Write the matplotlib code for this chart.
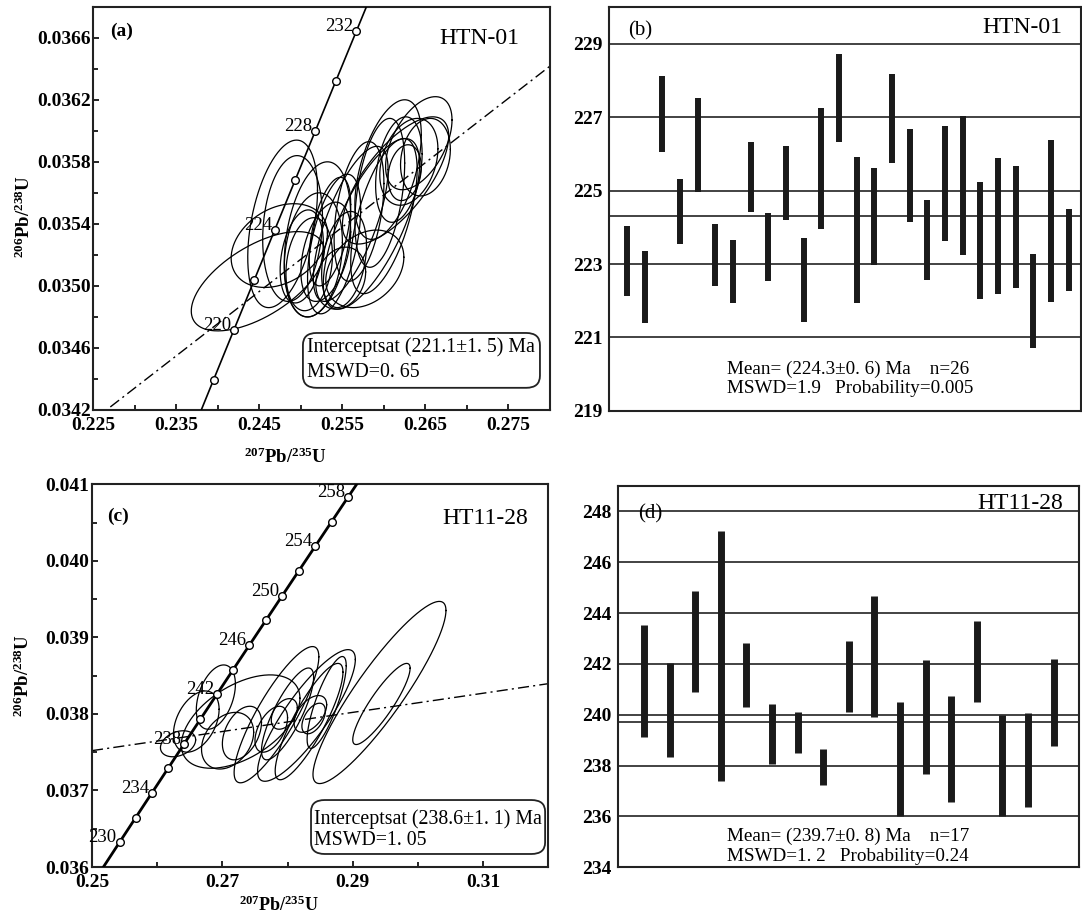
import numpy as np
import matplotlib
matplotlib.use('Agg')
import matplotlib.pyplot as plt
from matplotlib.patches import FancyBboxPatch
from matplotlib.ticker import FixedLocator, FormatStrFormatter

plt.rcParams['font.family'] = ['Liberation Serif', 'DejaVu Serif']
plt.rcParams['mathtext.fontset'] = 'custom'
plt.rcParams['mathtext.rm'] = 'Liberation Serif'
plt.rcParams['mathtext.bf'] = 'Liberation Serif:bold'

# decay constants, per Ma
L238 = 1.55125e-4
L235 = 9.8485e-4

# ---- panel (a) HTN-01 concordia ----
a_ages = [218, 220, 222, 224, 226, 228, 230, 232]
a_labels = [220, 224, 228, 232]
a_intercept = 221.1
a_slope = 0.0415
a_xticks = [0.225, 0.235, 0.245, 0.255, 0.265, 0.275]
a_yticks = [0.0342, 0.0346, 0.0350, 0.0354, 0.0358, 0.0362, 0.0366]
a_cx = [0.2448, 0.2478, 0.2474, 0.2490, 0.2501, 0.2515, 0.2510, 0.2530, 0.2540,
        0.2552, 0.2577, 0.2560, 0.2585, 0.2570, 0.2595, 0.2614, 0.2618, 0.2642,
        0.2630, 0.2650, 0.2625, 0.2600, 0.2535, 0.2520, 0.2548, 0.2605]
a_cy = [0.03503, 0.03540, 0.03526, 0.03537, 0.03519, 0.03520, 0.03514, 0.03522, 0.03527,
        0.03517, 0.03511, 0.03540, 0.03540, 0.03548, 0.03560, 0.03568, 0.03575, 0.03592,
        0.03580, 0.03583, 0.03573, 0.03545, 0.03535, 0.03530, 0.03505, 0.03575]
a_sx = [0.0080, 0.0042, 0.0058, 0.0036, 0.0026, 0.0035, 0.0028, 0.0030, 0.0032,
        0.0027, 0.0047, 0.0045, 0.0058, 0.0030, 0.0030, 0.0064, 0.0028, 0.0040,
        0.0035, 0.0030, 0.0020, 0.0040, 0.0025, 0.0040, 0.0030, 0.0040]
a_sy = [0.00032, 0.00054, 0.00027, 0.00047, 0.00030, 0.00040, 0.00030, 0.00032, 0.00045,
        0.00031, 0.00025, 0.00050, 0.00055, 0.00045, 0.00048, 0.00041, 0.00034, 0.00030,
        0.00028, 0.00025, 0.00018, 0.00050, 0.00035, 0.00050, 0.00020, 0.00045]
a_rho = [0.60, 0.40, 0.30, 0.15, 0.30, 0.20, 0.20, 0.40, 0.50,
         0.30, 0.30, 0.70, 0.70, 0.40, 0.40, 0.70, 0.30, 0.50,
         0.30, 0.20, 0.20, 0.60, 0.50, 0.30, 0.20, 0.50]

# ---- panel (b) HTN-01 weighted mean ----
b_hi = [224.04, 223.35, 228.13, 225.31, 227.54, 224.08, 223.65, 226.34, 224.38, 226.22,
        223.70, 227.26, 228.73, 225.91, 225.63, 228.17, 226.68, 224.75, 226.75, 227.04,
        225.24, 225.90, 225.67, 223.27, 226.37, 224.49]
b_lo = [222.14, 221.39, 226.06, 223.54, 224.97, 222.41, 221.93, 224.43, 222.54, 224.19,
        221.43, 223.95, 226.32, 221.93, 222.98, 225.76, 224.15, 222.57, 223.63, 223.25,
        222.04, 222.17, 222.35, 220.72, 221.97, 222.27]
b_mean = 224.3
b_grid = [221, 223, 225, 227, 229]
b_ticks = [219, 221, 223, 225, 227, 229]

# ---- panel (c) HT11-28 concordia ----
c_ages = list(range(230, 260, 2))
c_labels = [230, 234, 238, 242, 246, 250, 254, 258]
c_intercept = 238.6
c_slope = 0.0125
c_xticks = [0.25, 0.27, 0.29, 0.31]
c_yticks = [0.036, 0.037, 0.038, 0.039, 0.040, 0.041]
c_cx = [0.2941, 0.2944, 0.2783, 0.2829, 0.2833, 0.2800, 0.2728, 0.2690, 0.2708,
        0.2632, 0.2835, 0.2840, 0.2795, 0.2860, 0.2730, 0.2660, 0.2775]
c_cy = [0.03828, 0.03813, 0.03799, 0.03798, 0.03790, 0.03800, 0.03790, 0.03822, 0.03765,
        0.03761, 0.03800, 0.03794, 0.03800, 0.03815, 0.03775, 0.03790, 0.03780]
c_sx = [0.0102, 0.0044, 0.0065, 0.0075, 0.0052, 0.0040, 0.0091, 0.0030, 0.0040,
        0.0027, 0.0025, 0.0018, 0.0020, 0.0030, 0.0030, 0.0035, 0.0025]
c_sy = [0.00119, 0.00053, 0.00089, 0.00086, 0.00076, 0.00060, 0.00061, 0.00042, 0.00037,
        0.00017, 0.00024, 0.00020, 0.00020, 0.00060, 0.00035, 0.00040, 0.00030]
c_rho = [0.90, 0.88, 0.85, 0.85, 0.85, 0.80, 0.50, 0.40, 0.30,
         0.30, 0.50, 0.50, 0.40, 0.80, 0.40, 0.40, 0.50]

# ---- panel (d) HT11-28 weighted mean ----
d_hi = [243.54, 242.05, 244.87, 247.24, 242.81, 240.42, 240.12, 238.67, 242.91, 244.66,
        240.50, 242.14, 240.75, 243.68, 239.99, 240.08, 242.20]
d_lo = [239.14, 238.34, 240.91, 237.38, 240.29, 238.08, 238.49, 237.24, 240.11, 239.93,
        236.00, 237.66, 236.55, 240.52, 236.00, 236.38, 238.78]
d_mean = 239.7
d_grid = [236, 238, 240, 242, 244, 246, 248]
d_ticks = [234, 236, 238, 240, 242, 244, 246, 248]


def concordia(t):
    t = np.asarray(t, dtype=float)
    return np.exp(L235 * t) - 1, np.exp(L238 * t) - 1


def style_spines(ax):
    for s in ax.spines.values():
        s.set_linewidth(1.5)
        s.set_color('#222222')


def concordia_panel(ax, ages, labels, t0, t1, intercept, slope, cx, cy, sx, sy, rho, lw):
    tt = np.linspace(t0, t1, 300)
    x, y = concordia(tt)
    ax.plot(x, y, color='k', lw=lw, zorder=3)
    mx, my = concordia(ages)
    ax.plot(mx, my, 'o', ms=5.5, mfc='white', mec='k', mew=1.0, zorder=4)
    for age in labels:
        px, py = concordia(age)
        ax.annotate(str(age), (px, py), xytext=(-2, 0), textcoords='offset points',
                    ha='right', va='baseline', fontsize=13.5, zorder=5)
    ix, iy = concordia(intercept)
    xl = np.array(ax.get_xlim())
    ax.plot(xl, iy + slope * (xl - ix), color='k', lw=1.0,
            linestyle=(0, (8, 3, 1.5, 3)), zorder=2)
    t = np.linspace(0, 2 * np.pi, 240)
    for x0, y0, a, b, r in zip(cx, cy, sx, sy, rho):
        ax.plot(x0 + a * np.cos(t), y0 + b * (r * np.cos(t) + np.sqrt(1 - r * r) * np.sin(t)),
                color='k', lw=0.9, zorder=2)
    style_spines(ax)
    ax.tick_params(which='both', direction='in', labelsize=14)
    ax.tick_params(which='major', length=4, width=1.2)
    ax.tick_params(which='minor', length=3.5, width=1.2)
    ax.tick_params(axis='y', pad=2)
    ax.tick_params(axis='x', pad=5)
    for lab in ax.get_xticklabels() + ax.get_yticklabels():
        lab.set_fontweight('bold')
    ax.set_ylabel(r'$\mathbf{^{206}Pb/^{238}U}$', fontsize=13.5)
    ax.set_xlabel(r'$\mathbf{^{207}Pb/^{235}U}$', fontsize=13.5)
    ax.yaxis.label.set_va('bottom')
    ax.xaxis.label.set_va('top')


def set_ticks(ax, xt, yt, xstep, ystep, xfmt, yfmt):
    ax.xaxis.set_major_locator(FixedLocator(xt))
    ax.yaxis.set_major_locator(FixedLocator(yt))
    ax.xaxis.set_minor_locator(FixedLocator([v + xstep for v in xt]))
    ax.yaxis.set_minor_locator(FixedLocator([v + ystep for v in yt]))
    ax.xaxis.set_major_formatter(FormatStrFormatter(xfmt))
    ax.yaxis.set_major_formatter(FormatStrFormatter(yfmt))


def mean_panel(ax, hi, lo, mean, grid, ylim, xmax, bw, ticks):
    ax.set_xlim(0, xmax)
    ax.set_ylim(*ylim)
    for g in grid:
        ax.axhline(g, color='#222222', lw=1.2, zorder=1)
    ax.axhline(mean, color='#222222', lw=1.2, zorder=1)
    idx = np.arange(1, len(hi) + 1)
    ax.vlines(idx, lo, hi, colors='#1a1a1a', lw=bw, zorder=3)
    ax.set_xticks([])
    ax.set_yticks(ticks)
    ax.tick_params(axis='y', length=0, pad=5, labelsize=14)
    for lab in ax.get_yticklabels():
        lab.set_fontweight('bold')
    style_spines(ax)


fig = plt.figure(figsize=(10.82, 9.14), dpi=100)
W, H = 1082.0, 914.0


def add_ax(l, r, t, b):
    return fig.add_axes([l / W, 1 - b / H, (r - l) / W, (b - t) / H])


# (a)
ax_a = add_ax(93.3, 550, 6.7, 410)
ax_a.set_xlim(0.225, 0.28)
ax_a.set_ylim(0.0342, 0.0368)
set_ticks(ax_a, a_xticks, a_yticks, 0.005, 0.0002, '%.3f', '%.4f')
concordia_panel(ax_a, a_ages, a_labels, 214, 236, a_intercept, a_slope,
                a_cx, a_cy, a_sx, a_sy, a_rho, lw=1.2)
ax_a.yaxis.set_label_coords(-0.13, 0.48)
ax_a.xaxis.set_label_coords(0.42, -0.092)
ax_a.text(0.037, 0.938, '(a)', transform=ax_a.transAxes, fontsize=14,
          fontweight='bold', va='center', ha='left')
ax_a.text(0.932, 0.922, 'HTN-01', transform=ax_a.transAxes, fontsize=17,
          va='center', ha='right')
ax_a.add_patch(FancyBboxPatch((0.459, 0.055), 0.519, 0.136, transform=ax_a.transAxes,
                              boxstyle='round,pad=0,rounding_size=0.03',
                              fc='white', ec='#222222', lw=1.3, zorder=6))
ax_a.text(0.468, 0.156, 'Interceptsat (221.1\u00b11. 5) Ma', transform=ax_a.transAxes,
          fontsize=14.3, va='center', ha='left', zorder=7)
ax_a.text(0.468, 0.092, 'MSWD=0. 65', transform=ax_a.transAxes,
          fontsize=14.3, va='center', ha='left', zorder=7)

# (b)
ax_b = add_ax(609.3, 1081, 7.3, 410.7)
mean_panel(ax_b, b_hi, b_lo, b_mean, b_grid, (219, 230), 26.7, 4.3, b_ticks)
ax_b.text(0.04, 0.941, '(b)', transform=ax_b.transAxes, fontsize=15,
          va='center', ha='left')
ax_b.text(0.961, 0.951, 'HTN-01', transform=ax_b.transAxes, fontsize=17,
          va='center', ha='right')
ax_b.text(0.249, 0.103, 'Mean= (224.3\u00b10. 6) Ma    n=26', transform=ax_b.transAxes,
          fontsize=13.8, va='center', ha='left')
ax_b.text(0.249, 0.054, 'MSWD=1.9   Probability=0.005', transform=ax_b.transAxes,
          fontsize=13.8, va='center', ha='left')

# (c)
ax_c = add_ax(92, 548.3, 484.3, 867)
ax_c.set_xlim(0.25, 0.32)
ax_c.set_ylim(0.036, 0.041)
set_ticks(ax_c, c_xticks, c_yticks, 0.01, 0.0005, '%.2f', '%.3f')
concordia_panel(ax_c, c_ages, c_labels, 226, 262, c_intercept, c_slope,
                c_cx, c_cy, c_sx, c_sy, c_rho, lw=2.0)
ax_c.xaxis.label.set_fontsize(13)
ax_c.yaxis.set_label_coords(-0.13, 0.5)
ax_c.xaxis.set_label_coords(0.41, -0.076)
ax_c.text(0.034, 0.917, '(c)', transform=ax_c.transAxes, fontsize=14,
          fontweight='bold', va='center', ha='left')
ax_c.text(0.955, 0.911, 'HT11-28', transform=ax_c.transAxes, fontsize=17,
          va='center', ha='right')
ax_c.add_patch(FancyBboxPatch((0.48, 0.034), 0.513, 0.141, transform=ax_c.transAxes,
                              boxstyle='round,pad=0,rounding_size=0.03',
                              fc='white', ec='#222222', lw=1.3, zorder=6))
ax_c.text(0.486, 0.125, 'Interceptsat (238.6\u00b11. 1) Ma', transform=ax_c.transAxes,
          fontsize=14.3, va='center', ha='left', zorder=7)
ax_c.text(0.486, 0.068, 'MSWD=1. 05', transform=ax_c.transAxes,
          fontsize=14.3, va='center', ha='left', zorder=7)

# (d)
ax_d = add_ax(618.3, 1079.3, 486, 867.3)
mean_panel(ax_d, d_hi, d_lo, d_mean, d_grid, (234, 249), 18, 5.0, d_ticks)
ax_d.text(0.043, 0.928, '(d)', transform=ax_d.transAxes, fontsize=15,
          va='center', ha='left')
ax_d.text(0.965, 0.955, 'HT11-28', transform=ax_d.transAxes, fontsize=17,
          va='center', ha='right')
ax_d.text(0.235, 0.080, 'Mean= (239.7\u00b10. 8) Ma    n=17', transform=ax_d.transAxes,
          fontsize=13.8, va='center', ha='left')
ax_d.text(0.235, 0.028, 'MSWD=1. 2   Probability=0.24', transform=ax_d.transAxes,
          fontsize=13.8, va='center', ha='left')

fig.savefig('out.png', dpi=100)
